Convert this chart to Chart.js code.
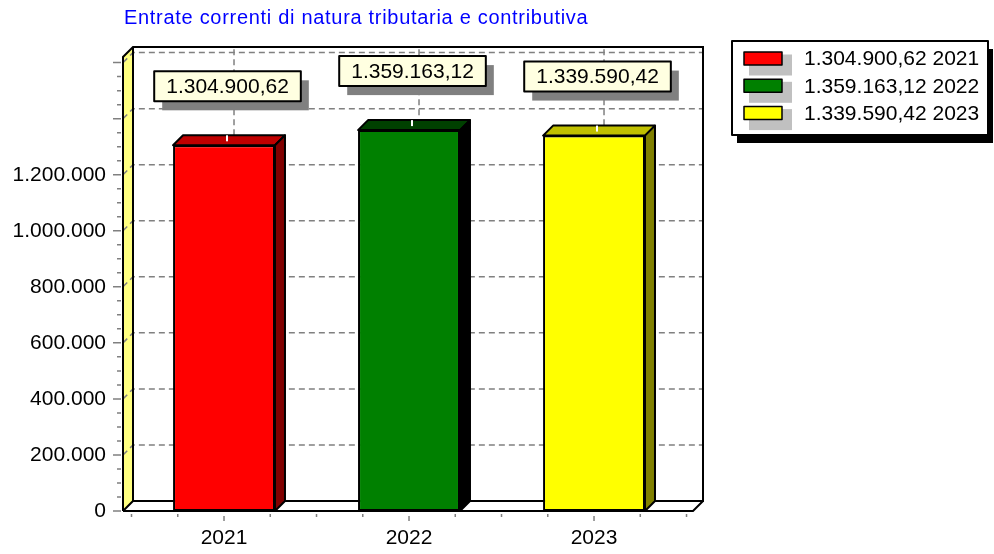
<!DOCTYPE html>
<html>
<head>
<meta charset="utf-8">
<script src="https://cdn.jsdelivr.net/npm/chart.js@4.4.0/dist/chart.umd.min.js"></script>
<style>
html, body { margin: 0; padding: 0; background: #fff; }
</style>
</head>
<body>
<canvas id="chart" width="994" height="554"></canvas>
<script>
const title = 'Entrate correnti di natura tributaria e contributiva';
const categories = ['2021', '2022', '2023'];
const values = [1304900.62, 1359163.12, 1339590.42];
const yTicks = [0, 200000, 400000, 600000, 800000, 1000000, 1200000, 1400000, 1600000];
const yLabelled = 1200000; // the original stops labelling here

const barColors = ['#ff0000', '#008000', '#ffff00'];
const topColors = ['#c00000', '#004000', '#c0c000'];
const sideColors = ['#800000', '#000000', '#808000'];

const FONT = '"Liberation Sans", Arial, sans-serif';
const DX = 10, DY = -10; // depth of the 3D box

function fmtInt(v) {
  return Math.round(v).toString().replace(/\B(?=(\d{3})+(?!\d))/g, '.');
}
function fmtDec(v) {
  const parts = v.toFixed(2).split('.');
  return fmtInt(+parts[0]) + ',' + parts[1];
}

const threeD = {
  id: 'threeD',
  beforeDatasetsDraw(chart) {
    const { ctx, chartArea: a, scales: { x, y } } = chart;
    ctx.save();

    // left wall
    ctx.fillStyle = '#ffff80';
    ctx.beginPath();
    ctx.moveTo(a.left, a.top);
    ctx.lineTo(a.left + DX, a.top + DY);
    ctx.lineTo(a.left + DX, a.bottom + DY);
    ctx.lineTo(a.left, a.bottom);
    ctx.closePath();
    ctx.fill();

    // dashed grid on the walls
    ctx.setLineDash([6, 4]);
    ctx.strokeStyle = '#808080';
    ctx.lineWidth = 1.5;
    yTicks.forEach(v => {
      if (v === 0) return;
      const py = y.getPixelForValue(v);
      ctx.beginPath();
      ctx.moveTo(a.left, py);
      ctx.lineTo(a.left + DX, py + DY);
      ctx.lineTo(a.right + DX, py + DY);
      ctx.stroke();
    });
    categories.forEach((c, i) => {
      const px = x.getPixelForValue(i);
      ctx.beginPath();
      ctx.moveTo(px, a.bottom);
      ctx.lineTo(px + DX, a.bottom + DY);
      ctx.lineTo(px + DX, a.top + DY);
      ctx.stroke();
    });
    ctx.setLineDash([]);

    // frame
    ctx.strokeStyle = '#000';
    ctx.lineWidth = 2;
    ctx.beginPath();
    ctx.moveTo(a.left, a.bottom);
    ctx.lineTo(a.left, a.top);
    ctx.lineTo(a.left + DX, a.top + DY);
    ctx.lineTo(a.right + DX, a.top + DY);
    ctx.lineTo(a.right + DX, a.bottom + DY);
    ctx.lineTo(a.left + DX, a.bottom + DY);
    ctx.lineTo(a.left + DX, a.top + DY);
    ctx.moveTo(a.left, a.bottom);
    ctx.lineTo(a.left + DX, a.bottom + DY);
    ctx.moveTo(a.left, a.bottom);
    ctx.lineTo(a.right, a.bottom);
    ctx.lineTo(a.right + DX, a.bottom + DY);
    ctx.stroke();

    // axis tick marks
    ctx.strokeStyle = '#808080';
    ctx.lineWidth = 1.5;
    ctx.beginPath();
    for (let k = 0; k < yTicks.length; k++) {
      const py = y.getPixelForValue(yTicks[k]);
      ctx.moveTo(a.left - 10, py);
      ctx.lineTo(a.left - 2, py);
      if (k < yTicks.length - 1) {
        const step = (yTicks[k + 1] - yTicks[k]) / 4;
        for (let m = 1; m < 4; m++) {
          const pm = y.getPixelForValue(yTicks[k] + step * m);
          ctx.moveTo(a.left - 6, pm);
          ctx.lineTo(a.left - 2, pm);
        }
      }
    }
    for (let t = -0.5; t <= categories.length - 0.5 + 1e-9; t += 0.25) {
      const px = x.getPixelForValue(t);
      const major = Math.abs(t - Math.round(t)) < 1e-9;
      ctx.moveTo(px, a.bottom + (major ? 5 : 3));
      ctx.lineTo(px, a.bottom + (major ? 10 : 6));
    }
    ctx.stroke();
    ctx.restore();
  },
  afterDatasetsDraw(chart) {
    const { ctx } = chart;
    const meta = chart.getDatasetMeta(0);
    ctx.save();
    meta.data.forEach((el, i) => {
      const x0 = el.x - el.width / 2, x1 = el.x + el.width / 2;
      const top = el.y, bottom = el.base;
      ctx.lineWidth = 2;
      ctx.strokeStyle = '#000';
      ctx.lineJoin = 'round';
      // top face
      ctx.fillStyle = topColors[i];
      ctx.beginPath();
      ctx.moveTo(x0, top);
      ctx.lineTo(x0 + DX, top + DY);
      ctx.lineTo(x1 + DX, top + DY);
      ctx.lineTo(x1, top);
      ctx.closePath();
      ctx.fill();
      ctx.stroke();
      // side face
      ctx.fillStyle = sideColors[i];
      ctx.beginPath();
      ctx.moveTo(x1, top);
      ctx.lineTo(x1 + DX, top + DY);
      ctx.lineTo(x1 + DX, bottom + DY);
      ctx.lineTo(x1, bottom);
      ctx.closePath();
      ctx.fill();
      ctx.stroke();
      // label arrow stub
      ctx.strokeStyle = '#fff';
      ctx.beginPath();
      ctx.moveTo(el.x + 3, top - 10);
      ctx.lineTo(el.x + 3, top - 4);
      ctx.stroke();

      // value label
      const txt = fmtDec(values[i]);
      ctx.font = '21px ' + FONT;
      const w = ctx.measureText(txt).width + 24, h = 30;
      const bx = el.x + 3.5 - w / 2, by = top - 44 - h;
      ctx.fillStyle = '#808080';
      ctx.fillRect(bx + 8, by + 9, w, h);
      ctx.fillStyle = '#ffffe1';
      ctx.fillRect(bx, by, w, h);
      ctx.strokeStyle = '#000';
      ctx.lineWidth = 2;
      ctx.strokeRect(bx, by, w, h);
      ctx.fillStyle = '#000';
      ctx.textAlign = 'center';
      ctx.textBaseline = 'middle';
      ctx.fillText(txt, bx + w / 2, by + h / 2 + 1);
    });

    // title
    ctx.font = '20px ' + FONT;
    ctx.fillStyle = '#0000ff';
    ctx.textAlign = 'left';
    ctx.textBaseline = 'alphabetic';
    ctx.letterSpacing = '0.7px';
    ctx.fillText(title, 124, 24);
    ctx.letterSpacing = '0px';

    // legend
    const lx = 732, ly = 41, lw = 256, lh = 94;
    ctx.fillStyle = '#000';
    ctx.fillRect(lx + 5, ly + 8, lw, lh);
    ctx.fillStyle = '#fff';
    ctx.fillRect(lx, ly, lw, lh);
    ctx.strokeStyle = '#000';
    ctx.lineWidth = 2;
    ctx.strokeRect(lx, ly, lw, lh);
    ctx.font = '21px ' + FONT;
    ctx.textAlign = 'left';
    ctx.textBaseline = 'middle';
    categories.forEach((c, i) => {
      const cy = 58.5 + i * 27.3;
      ctx.fillStyle = '#c0c0c0';
      ctx.fillRect(749, cy - 4, 43, 21);
      ctx.fillStyle = barColors[i];
      ctx.fillRect(744, cy - 6.5, 38, 13);
      ctx.lineWidth = 1.5;
      ctx.strokeRect(744, cy - 6.5, 38, 13);
      ctx.fillStyle = '#000';
      ctx.fillText(fmtDec(values[i]) + ' ' + c, 804, cy + 1);
    });
    ctx.restore();
  }
};

new Chart(document.getElementById('chart'), {
  type: 'bar',
  data: {
    datasets: [{
      data: categories.map((c, i) => ({ x: i, y: values[i] })),
      backgroundColor: barColors,
      borderColor: '#000',
      borderWidth: 2,
      borderSkipped: false,
      barPercentage: 0.551,
      categoryPercentage: 1
    }]
  },
  options: {
    responsive: false,
    animation: false,
    events: [],
    layout: { padding: { top: 57, right: 301, left: 0, bottom: 0 } },
    plugins: { legend: { display: false }, tooltip: { enabled: false } },
    scales: {
      x: {
        type: 'linear',
        offset: false,
        min: -0.546,
        max: 2.535,
        grid: { display: false, offset: false },
        border: { display: false },
        afterBuildTicks: s => { s.ticks = categories.map((c, i) => ({ value: i })); },
        afterFit: s => { s.height = 43; },
        ticks: {
          callback: v => categories[v],
          color: '#000',
          font: { family: FONT, size: 21 },
          padding: 7,
          maxRotation: 0,
          autoSkip: false
        }
      },
      y: {
        min: 0,
        max: 1620000,
        grid: { display: false },
        border: { display: false },
        afterBuildTicks: s => { s.ticks = yTicks.map(v => ({ value: v })); },
        afterFit: s => { s.width = 123; },
        ticks: {
          callback: v => (v <= yLabelled ? fmtInt(v) : ''),
          color: '#000',
          font: { family: FONT, size: 21 },
          padding: 9,
          autoSkip: false
        }
      }
    }
  },
  plugins: [threeD]
});
</script>
</body>
</html>
